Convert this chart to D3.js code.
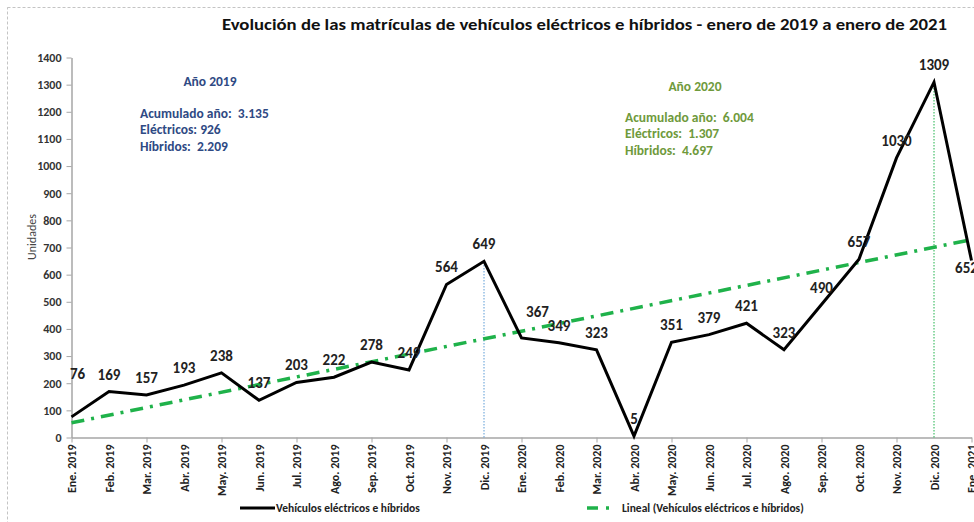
<!DOCTYPE html>
<html>
<head>
<meta charset="utf-8">
<script src="https://cdn.jsdelivr.net/npm/d3@7"></script>
<style>
  body { margin: 0; background: #fff; }
  svg { display: block; font-family: Calibri, Carlito, "Liberation Sans", Arial, sans-serif; }
  text { white-space: pre; }
</style>
</head>
<body>
<div id="chart"></div>
<script>
// months shown on the x axis
const months = ["Ene. 2019", "Feb. 2019", "Mar. 2019", "Abr. 2019", "May. 2019", "Jun. 2019",
                "Jul. 2019", "Ago. 2019", "Sep. 2019", "Oct. 2019", "Nov. 2019", "Dic. 2019",
                "Ene. 2020", "Feb. 2020", "Mar. 2020", "Abr. 2020", "May. 2020", "Jun. 2020",
                "Jul. 2020", "Ago. 2020", "Sep. 2020", "Oct. 2020", "Nov. 2020", "Dic. 2020",
                "Ene. 2021"];
// registrations (electric + hybrid)
const units = [76, 169, 157, 193, 238, 137, 203, 222, 278, 249, 564, 649,
               367, 349, 323, 5, 351, 379, 421, 323, 490, 657, 1030, 1309,
               652];
const yTicks = [0, 100, 200, 300, 400, 500, 600, 700, 800, 900, 1000, 1100, 1200, 1300, 1400];

const title = "Evolución de las matrículas de vehículos eléctricos e híbridos - enero de 2019 a enero de 2021";
const notes2019 = ["Acumulado año:  3.135", "Eléctricos: 926", "Híbridos:  2.209"];
const notes2020 = ["Acumulado año:  6.004", "Eléctricos:  1.307", "Híbridos:  4.697"];

// a few labels sit away from the default spot above the point
const labelNudge = { 0: [6, -43], 12: [16, -26], 24: [-5, 7] };

const width = 974, height = 522;
const margin = { top: 57.5, right: 2.5, bottom: 84.5, left: 71.5 };

const svg = d3.select("#chart").append("svg").attr("width", width).attr("height", height);

// dashed frame of the chart object
svg.append("rect").attr("x", 7.5).attr("y", 7.5).attr("width", width + 20).attr("height", height + 20)
   .attr("fill", "#fff").attr("stroke", "#c4c4c4").attr("stroke-dasharray", "3,2");

const x = d3.scalePoint().domain(months).range([margin.left, width - margin.right]);
const y = d3.scaleLinear().domain([0, 1400]).range([height - margin.bottom, margin.top]);

// title
svg.append("text").attr("x", 222).attr("y", 30)
   .attr("textLength", 725).attr("lengthAdjust", "spacingAndGlyphs")
   .style("font-size", "16px").style("font-weight", "bold").attr("fill", "#111")
   .text(title);

// y axis
const gy = svg.append("g").attr("transform", "translate(" + margin.left + ",0)")
   .call(d3.axisLeft(y).tickValues(yTicks).tickFormat(d3.format("d")).tickSize(5).tickSizeOuter(0).tickPadding(5));
gy.select(".domain").attr("stroke", "#a6a6a6").attr("stroke-width", 1.5);
gy.selectAll(".tick line").attr("stroke", "#a6a6a6");
gy.selectAll(".tick text").style("font-size", "12px").style("font-weight", "bold").attr("fill", "#333")
   .style("font-family", "Calibri, Carlito, 'Liberation Sans', Arial, sans-serif");

svg.append("text").attr("transform", "translate(36,237) rotate(-90)").attr("text-anchor", "middle")
   .style("font-size", "12px").attr("fill", "#444").text("Unidades");

// x axis: labels on every month, tick marks every other month
const gx = svg.append("g").attr("transform", "translate(0," + y(0) + ")")
   .call(d3.axisBottom(x).tickSize(0).tickSizeOuter(0));
gx.select(".domain").attr("stroke", "#a6a6a6").attr("stroke-width", 1.5);
gx.selectAll(".tick text")
   .attr("transform", "rotate(-90)").attr("x", -7).attr("y", 0).attr("dy", "0.36em")
   .attr("text-anchor", "end")
   .style("font-family", "Calibri, Carlito, 'Liberation Sans', Arial, sans-serif")
   .style("font-size", "12px").style("font-weight", "bold").attr("fill", "#222");

const gxt = svg.append("g").attr("transform", "translate(0," + y(0) + ")")
   .call(d3.axisBottom(x).tickValues(months.filter((d, i) => i % 2 === 0)).tickSize(5).tickSizeOuter(0).tickFormat(""));
gxt.select(".domain").remove();
gxt.selectAll(".tick line").attr("stroke", "#a6a6a6");

// vertical markers at year end
svg.append("line").attr("x1", x("Dic. 2019")).attr("x2", x("Dic. 2019"))
   .attr("y1", y(0)).attr("y2", y(units[11]))
   .attr("stroke", "#5b9bd5").attr("stroke-width", 1).attr("stroke-dasharray", "1.5,1.5");
svg.append("line").attr("x1", x("Dic. 2020")).attr("x2", x("Dic. 2020"))
   .attr("y1", y(0)).attr("y2", y(units[23]))
   .attr("stroke", "#1fb24a").attr("stroke-width", 1).attr("stroke-dasharray", "1.5,1.5");

// linear trend (least squares over the series, as Excel does)
const n = units.length;
const mx = d3.mean(d3.range(n)), my = d3.mean(units);
const slope = d3.sum(units, (v, i) => (i - mx) * (v - my)) / d3.sum(d3.range(n), i => (i - mx) * (i - mx));
const icpt = my - slope * mx;
const trend = [0, n - 1].map(i => ({ m: months[i], v: icpt + slope * i }));

svg.append("path").datum(trend)
   .attr("d", d3.line().x(d => x(d.m)).y(d => y(d.v)))
   .attr("fill", "none").attr("stroke", "#1fb24a").attr("stroke-width", 3.5)
   .attr("stroke-dasharray", "13,7,3,7");

// main line
svg.append("path").datum(units)
   .attr("d", d3.line().x((d, i) => x(months[i])).y(d => y(d)))
   .attr("fill", "none").attr("stroke", "#000").attr("stroke-width", 3).attr("stroke-linejoin", "miter");

// data labels
svg.selectAll("text.val")
   .data(units)
   .enter()
   .append("text")
   .attr("class", "val")
   .attr("x", (d, i) => x(months[i]) + (labelNudge[i] ? labelNudge[i][0] : 0))
   .attr("y", (d, i) => y(d) + (labelNudge[i] ? labelNudge[i][1] : -17) + 5)
   .attr("text-anchor", "middle")
   .style("font-size", "15px").style("font-weight", "bold").attr("fill", "#222")
   .text(d => d);

// year notes
function notes(cx, x0, yHead, yFirst, color, head, lines) {
    svg.append("text").attr("x", cx).attr("y", yHead).attr("text-anchor", "middle")
       .style("font-size", "13.5px").style("font-weight", "bold").attr("fill", color).text(head);
    svg.selectAll(null).data(lines).enter().append("text")
       .attr("x", x0).attr("y", (d, i) => yFirst + i * 16.5)
       .style("font-size", "13.5px").style("font-weight", "bold").attr("fill", color)
       .text(d => d);
}
notes(210, 140, 86, 117.5, "#2f4a84", "Año 2019", notes2019);
notes(695, 625, 91, 121.5, "#6f9a3c", "Año 2020", notes2020);

// legend
svg.append("line").attr("x1", 240).attr("x2", 275).attr("y1", 508).attr("y2", 508)
   .attr("stroke", "#000").attr("stroke-width", 3);
svg.append("text").attr("x", 276).attr("y", 512)
   .style("font-size", "11.5px").style("font-weight", "bold").attr("fill", "#222")
   .text("Vehículos eléctricos e híbridos");
svg.append("line").attr("x1", 587).attr("x2", 612).attr("y1", 508).attr("y2", 508)
   .attr("stroke", "#1fb24a").attr("stroke-width", 3.5).attr("stroke-dasharray", "11,8,3,20");
svg.append("text").attr("x", 622).attr("y", 512)
   .style("font-size", "11.5px").style("font-weight", "bold").attr("fill", "#222")
   .text("Lineal (Vehículos eléctricos e híbridos)");
</script>
</body>
</html>
